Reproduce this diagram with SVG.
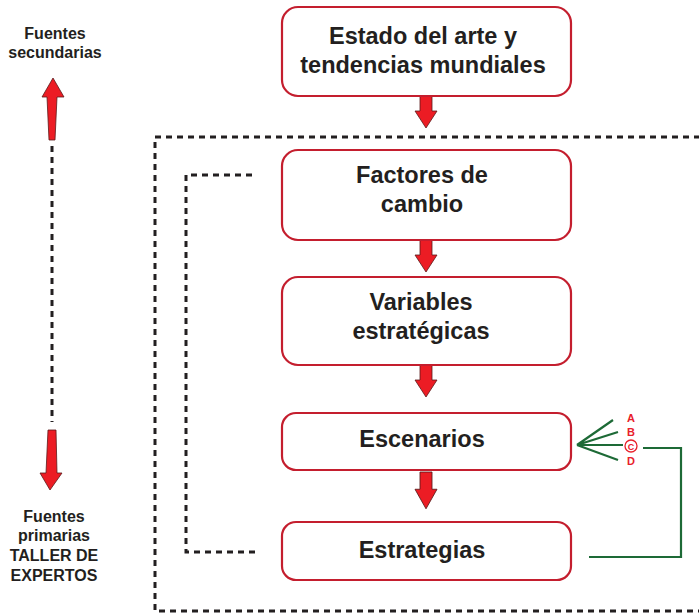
<svg xmlns="http://www.w3.org/2000/svg" width="699" height="614" viewBox="0 0 699 614">
<style>
.box{fill:#fff;stroke:#c41e2e;stroke-width:2.2}
.t{font-family:"Liberation Sans",Arial,sans-serif;font-weight:bold;font-size:23.5px;fill:#231f20;text-anchor:middle}
.s{font-family:"Liberation Sans",Arial,sans-serif;font-weight:bold;font-size:16px;fill:#231f20;text-anchor:middle}
.l{font-family:"Liberation Sans",Arial,sans-serif;font-weight:bold;font-size:11px;fill:#e8202a;text-anchor:middle}
.arr{fill:#ec1c24;stroke:#5a1a1a;stroke-width:0.8}
.dash{fill:none;stroke:#231f20;stroke-width:3;stroke-dasharray:6 5}
.g{fill:none;stroke:#1d6a36;stroke-width:2.2}
</style>
<defs>
<path id="da" d="M-6,0 L6,0 L6,15 L11,15 L0,32 L-11,15 L-6,15 Z"/>
</defs>
<g id="frame">
<path class="dash" d="M700,137 L155,137 L155,611 L700,611"/>
</g>
<g id="connectors">
<path class="dash" d="M252,175 L186,175 L186,552 L260,552"/>
<use href="#da" class="arr" transform="translate(426,96)"/>
<use href="#da" class="arr" transform="translate(426,240)"/>
<use href="#da" class="arr" transform="translate(426,365)"/>
<use href="#da" class="arr" transform="translate(426,472) scale(1,1.15)"/>
<path class="g" d="M643,448 L681,448 L681,557 L589,557"/>
<path class="g" d="M613,420 L577,445 M618,432 L577,445 M623,445 L577,445 M618,460 L577,445"/>
</g>
<g id="n1">
<rect class="box" x="282" y="7" width="289" height="89" rx="16"/>
<text class="t" x="423" y="44">Estado del arte y</text>
<text class="t" x="423" y="73">tendencias mundiales</text>
</g>
<g id="n2">
<rect class="box" x="282" y="150" width="289" height="90" rx="16"/>
<text class="t" x="422" y="183">Factores de</text>
<text class="t" x="422" y="212">cambio</text>
</g>
<g id="n3">
<rect class="box" x="282" y="277" width="289" height="88" rx="16"/>
<text class="t" x="421" y="310">Variables</text>
<text class="t" x="421" y="339">estratégicas</text>
</g>
<g id="n4">
<rect class="box" x="282" y="413" width="289" height="57" rx="14"/>
<text class="t" x="422" y="447">Escenarios</text>
</g>
<g id="n5">
<rect class="box" x="282" y="522" width="289" height="58" rx="14"/>
<text class="t" x="422" y="558">Estrategias</text>
</g>
<g id="scen">
<text class="l" x="631" y="422">A</text>
<text class="l" x="631" y="436">B</text>
<circle cx="631" cy="446" r="6" fill="none" stroke="#e8202a" stroke-width="1.3"/>
<text class="l" x="631" y="449.5" style="font-size:9px">C</text>
<text class="l" x="631" y="465">D</text>
</g>
<g id="left">
<text class="s" x="55" y="39">Fuentes</text>
<text class="s" x="55" y="58">secundarias</text>
<path class="arr" d="M49,140 L55,140 L57,97 L64,97 L53,78 L42,97 L47,97 Z"/>
<path class="dash" d="M52,146 L52,422"/>
<path class="arr" d="M48,430 L56,430 L57,473 L62,473 L50,490 L40,473 L46,473 Z"/>
<text class="s" x="54" y="522">Fuentes</text>
<text class="s" x="54" y="541">primarias</text>
<text class="s" x="54" y="561">TALLER DE</text>
<text class="s" x="54" y="581">EXPERTOS</text>
</g>
</svg>
